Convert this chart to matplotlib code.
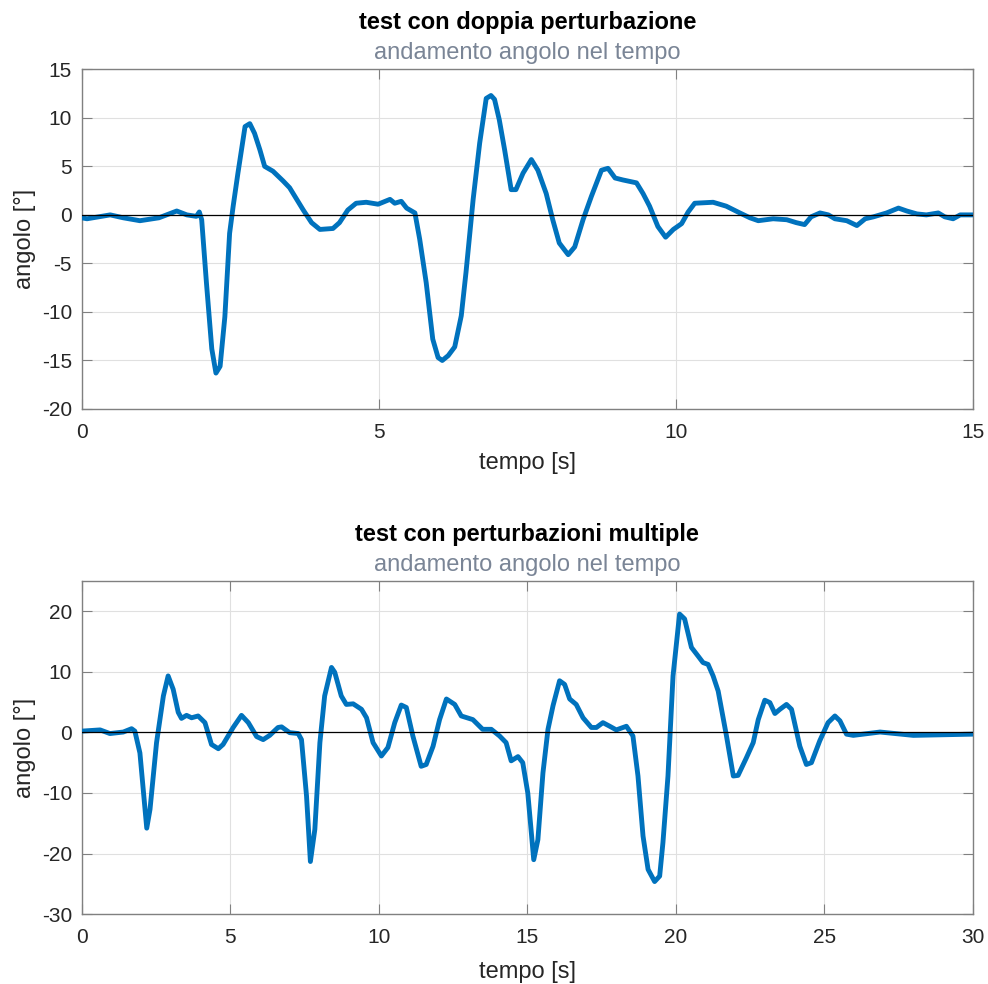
import matplotlib
matplotlib.use("Agg")
import matplotlib.pyplot as plt
import numpy as np

# --- test con doppia perturbazione: time [s] and angle [deg] ---
t1 = [0.00, 0.09, 0.48, 0.70, 0.98, 1.30, 1.60, 1.77, 1.93, 1.98, 2.02, 2.10,
      2.19, 2.26, 2.33, 2.41, 2.49, 2.55, 2.63, 2.75, 2.83, 2.91, 3.00, 3.08,
      3.22, 3.39, 3.50, 3.62, 3.73, 3.87, 4.01, 4.23, 4.34, 4.48, 4.62, 4.79,
      4.99, 5.19, 5.27, 5.38, 5.47, 5.61, 5.69, 5.80, 5.91, 6.00, 6.07, 6.17,
      6.28, 6.39, 6.47, 6.59, 6.70, 6.81, 6.89, 6.95, 7.03, 7.12, 7.23, 7.31,
      7.43, 7.57, 7.68, 7.82, 7.93, 8.04, 8.19, 8.30, 8.44, 8.58, 8.75, 8.86,
      8.98, 9.11, 9.34, 9.45, 9.56, 9.70, 9.83, 9.96, 10.10, 10.21, 10.32,
      10.63, 10.85, 11.08, 11.25, 11.39, 11.64, 11.87, 12.03, 12.17, 12.28,
      12.43, 12.57, 12.68, 12.88, 13.05, 13.19, 13.33, 13.55, 13.75, 13.89,
      14.06, 14.22, 14.42, 14.53, 14.67, 14.79, 15.00]
a1 = [-0.3, -0.4, 0.0, -0.3, -0.6, -0.3, 0.4, 0.0, -0.15, 0.3, -0.5, -7.0,
      -13.8, -16.3, -15.6, -10.5, -1.9, 0.9, 4.3, 9.1, 9.4, 8.4, 6.7, 5.0,
      4.5, 3.5, 2.8, 1.6, 0.5, -0.8, -1.5, -1.4, -0.8, 0.5, 1.2, 1.3,
      1.1, 1.6, 1.2, 1.4, 0.7, 0.2, -2.5, -7.0, -12.8, -14.7, -15.0, -14.5,
      -13.6, -10.4, -5.9, 1.6, 7.4, 12.0, 12.3, 11.9, 9.8, 6.7, 2.6, 2.6,
      4.3, 5.7, 4.6, 2.2, -0.5, -2.9, -4.1, -3.3, -0.5, 1.9, 4.6, 4.8,
      3.8, 3.6, 3.3, 2.2, 0.9, -1.2, -2.3, -1.5, -0.9, 0.3, 1.2,
      1.3, 0.9, 0.2, -0.3, -0.6, -0.4, -0.5, -0.8, -1.0, -0.2,
      0.2, 0.0, -0.4, -0.6, -1.1, -0.4, -0.2, 0.2, 0.7, 0.4,
      0.1, 0.0, 0.2, -0.2, -0.4, 0.0, 0.0]

# --- test con perturbazioni multiple: time [s] and angle [deg] ---
t2 = [0.00, 0.62, 0.95, 1.40, 1.68, 1.79, 1.96, 2.19, 2.30, 2.52, 2.75, 2.91,
      3.08, 3.25, 3.36, 3.53, 3.70, 3.92, 4.15, 4.37, 4.60, 4.76, 5.10, 5.38,
      5.61, 5.89, 6.11, 6.33, 6.61, 6.73, 7.00, 7.29, 7.40, 7.57, 7.70, 7.85,
      8.02, 8.18, 8.41, 8.52, 8.74, 8.91, 9.14, 9.42, 9.59, 9.81, 10.09, 10.31,
      10.54, 10.76, 10.93, 11.15, 11.43, 11.60, 11.83, 12.05, 12.28, 12.56,
      12.78, 13.17, 13.50, 13.79, 14.07, 14.29, 14.46, 14.69, 14.85, 15.02,
      15.22, 15.36, 15.53, 15.70, 15.87, 16.09, 16.26, 16.43, 16.65, 16.88,
      17.16, 17.33, 17.55, 17.78, 18.00, 18.34, 18.56, 18.73, 18.90, 19.07,
      19.29, 19.46, 19.57, 19.74, 19.91, 20.13, 20.30, 20.53, 20.75, 20.92,
      21.09, 21.26, 21.43, 21.71, 21.94, 22.10, 22.38, 22.61, 22.78, 23.00,
      23.17, 23.34, 23.51, 23.73, 23.90, 24.18, 24.40, 24.57, 24.85, 25.13,
      25.36, 25.53, 25.75, 25.98, 26.88, 28.00, 30.00]
a2 = [0.2, 0.4, -0.2, 0.05, 0.6, 0.2, -3.4, -15.8, -12.7, -1.7, 6.0, 9.3,
      7.1, 3.3, 2.3, 2.8, 2.4, 2.7, 1.6, -2.0, -2.7, -2.0, 0.8, 2.8,
      1.6, -0.7, -1.2, -0.5, 0.8, 0.9, -0.05, -0.2, -1.2, -10.5, -21.3, -16.0,
      -1.7, 6.0, 10.7, 9.9, 6.0, 4.6, 4.7, 3.8, 2.4, -1.7, -3.9, -2.5,
      1.6, 4.5, 4.1, -0.6, -5.6, -5.3, -2.3, 2.1, 5.5, 4.6,
      2.7, 2.1, 0.5, 0.5, -0.6, -1.7, -4.7, -4.0, -5.0, -10.0,
      -21.0, -17.7, -6.7, 0.5, 4.4, 8.5, 7.9, 5.5, 4.6, 2.4,
      0.8, 0.8, 1.6, 1.0, 0.4, 1.0, -0.6, -7.2, -17.1, -22.6,
      -24.6, -23.7, -18.2, -7.2, 9.3, 19.5, 18.7, 14.0, 12.6, 11.5,
      11.2, 9.3, 6.8, -0.6, -7.2, -7.1, -4.2, -1.7, 2.1, 5.3,
      4.9, 3.1, 3.8, 4.6, 3.8, -2.3, -5.3, -5.0, -1.4, 1.6,
      2.7, 1.9, -0.3, -0.5, 0.05, -0.5, -0.3]

titles = ["test con doppia perturbazione", "test con perturbazioni multiple"]
subtitle = "andamento angolo nel tempo"
xlabel = "tempo [s]"
ylabel = "angolo [°]"

xlims = [(0, 15), (0, 30)]
ylims = [(-20, 15), (-30, 25)]
xticks = [np.arange(0, 16, 5), np.arange(0, 31, 5)]
yticks = [np.arange(-20, 16, 5), np.arange(-30, 21, 10)]

plt.rcParams["font.family"] = ["Liberation Sans", "DejaVu Sans"]
plt.rcParams["axes.unicode_minus"] = False

W, H = 988, 984
fig = plt.figure(figsize=(W / 100, H / 100), dpi=100)

line_color = "#0072BD"
tick_color = "#262626"
spine_color = "#808080"
sub_color = "#7a8596"

# axes rectangles in pixels: left, right, top, bottom
boxes = [(81.7, 972.7, 69.3, 409.0), (81.7, 972.7, 580.7, 914.3)]
xlabel_pads = [7, 10]

for i, (tt, aa) in enumerate([(t1, a1), (t2, a2)]):
    l, r, tp, bt = boxes[i]
    ax = fig.add_axes([l / W, (H - bt) / H, (r - l) / W, (bt - tp) / H])
    ax.plot(tt, aa, color=line_color, lw=3.5, solid_joinstyle="round",
            solid_capstyle="round", zorder=3)
    ax.axhline(0, color="black", lw=0.9, zorder=4)
    ax.set_xlim(*xlims[i])
    ax.set_ylim(*ylims[i])
    ax.set_xticks(xticks[i])
    ax.set_yticks(yticks[i])
    ax.grid(True, color="#e0e0e0", lw=0.8)
    ax.set_axisbelow(True)
    ax.tick_params(direction="in", length=7, width=0.8, colors=spine_color,
                   labelcolor=tick_color, labelsize=15, top=True, right=True)
    ax.tick_params(axis="x", pad=10)
    ax.tick_params(axis="y", pad=7)
    for s in ax.spines.values():
        s.set_color(spine_color)
        s.set_linewidth(1.0)
    ax.set_xlabel(xlabel, fontsize=17, color=tick_color,
                  labelpad=xlabel_pads[i])
    ax.set_ylabel(ylabel, fontsize=17, color=tick_color, labelpad=4)
    xc = (l + r) / 2 / W
    fig.text(xc, (H - (tp - 40)) / H, titles[i], ha="center", va="baseline",
             fontsize=17, fontweight="bold", color="black")
    fig.text(xc, (H - (tp - 10)) / H, subtitle, ha="center", va="baseline",
             fontsize=17, color=sub_color)

fig.savefig("out.png", dpi=100, facecolor="white")
